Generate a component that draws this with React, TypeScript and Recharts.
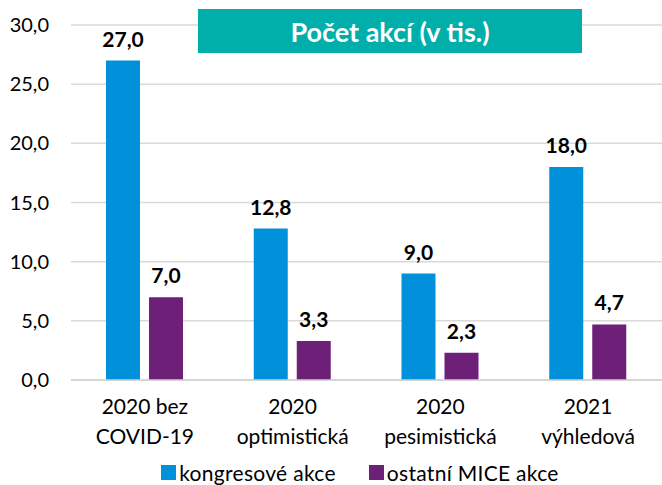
import React from "react";
import { BarChart, Bar, XAxis, YAxis, CartesianGrid, Legend, LabelList } from "recharts";

const categories = ["2020 bez|COVID-19", "2020|optimistická", "2020|pesimistická", "2021|výhledová"];
const congressValues = [27.0, 12.8, 9.0, 18.0];
const otherMiceValues = [7.0, 3.3, 2.3, 4.7];
const yTicks = [0, 5, 10, 15, 20, 25, 30];

const data = categories.map((name, i) => ({
  name,
  kongres: congressValues[i],
  ostatni: otherMiceValues[i],
}));

const FONT = "Lato, 'Open Sans', sans-serif";
const BLUE = "#0091da";
const PURPLE = "#6e1f78";

const fmt = (v: number) => v.toFixed(1).replace(".", ",");

const CategoryTick = (props: any) => {
  const { x, y, payload } = props;
  const lines = String(payload.value).split("|");
  return (
    <text x={x} y={y} textAnchor="middle" fill="#000" fontSize={21} fontFamily={FONT}>
      {lines.map((line: string, i: number) => (
        <tspan key={i} x={x} dy={i === 0 ? 26 : 30}>
          {line}
        </tspan>
      ))}
    </text>
  );
};

const LegendContent = () => (
  <div
    style={{
      display: "flex",
      justifyContent: "center",
      gap: 33,
      fontFamily: FONT,
      fontSize: 21,
      letterSpacing: 0.3,
      color: "#000",
      paddingLeft: 58,
      paddingTop: 8,
    }}
  >
    {[
      { label: "kongresové akce", color: BLUE },
      { label: "ostatní MICE akce", color: PURPLE },
    ].map((item) => (
      <span key={item.label} style={{ display: "flex", alignItems: "center" }}>
        <span style={{ width: 15, height: 15, background: item.color, marginRight: 3, display: "inline-block" }} />
        {item.label}
      </span>
    ))}
  </div>
);

export default function App() {
  return (
    <div style={{ position: "absolute", left: 0, top: 0, width: 662, height: 485, background: "#fff" }}>
      <BarChart
        width={662}
        height={485}
        data={data}
        margin={{ top: 25, right: 0, left: 0, bottom: 0 }}
        barSize={34}
        barGap={9}
      >
        <CartesianGrid vertical={false} stroke="#d9d9d9" strokeWidth={1.5} />
        <XAxis
          dataKey="name"
          tick={<CategoryTick />}
          tickLine={false}
          axisLine={{ stroke: "#d0d0d0", strokeWidth: 1.5 }}
          height={72}
          interval={0}
        />
        <YAxis
          domain={[0, 30]}
          ticks={yTicks}
          tickFormatter={fmt}
          axisLine={false}
          tickLine={false}
          tickSize={0}
          tickMargin={22}
          width={71}
          tick={{ fill: "#000", fontSize: 20, fontFamily: FONT }}
        />
        <Legend verticalAlign="bottom" height={33} content={<LegendContent />} />
        <Bar dataKey="kongres" fill={BLUE} isAnimationActive={false}>
          <LabelList
            dataKey="kongres"
            position="top"
            offset={14}
            formatter={(v: any) => fmt(Number(v))}
            style={{ fill: "#000", fontSize: 21, fontWeight: 700, fontFamily: FONT }}
          />
        </Bar>
        <Bar dataKey="ostatni" fill={PURPLE} isAnimationActive={false}>
          <LabelList
            dataKey="ostatni"
            position="top"
            offset={14}
            formatter={(v: any) => fmt(Number(v))}
            style={{ fill: "#000", fontSize: 21, fontWeight: 700, fontFamily: FONT }}
          />
        </Bar>
      </BarChart>
      <div
        style={{
          position: "absolute",
          left: 198,
          top: 9,
          width: 384,
          height: 44,
          background: "#00aeaa",
          color: "#fff",
          fontFamily: FONT,
          fontWeight: 700,
          fontSize: 27,
          display: "flex",
          alignItems: "center",
          justifyContent: "center",
        }}
      >
        Počet akcí (v tis.)
      </div>
    </div>
  );
}
